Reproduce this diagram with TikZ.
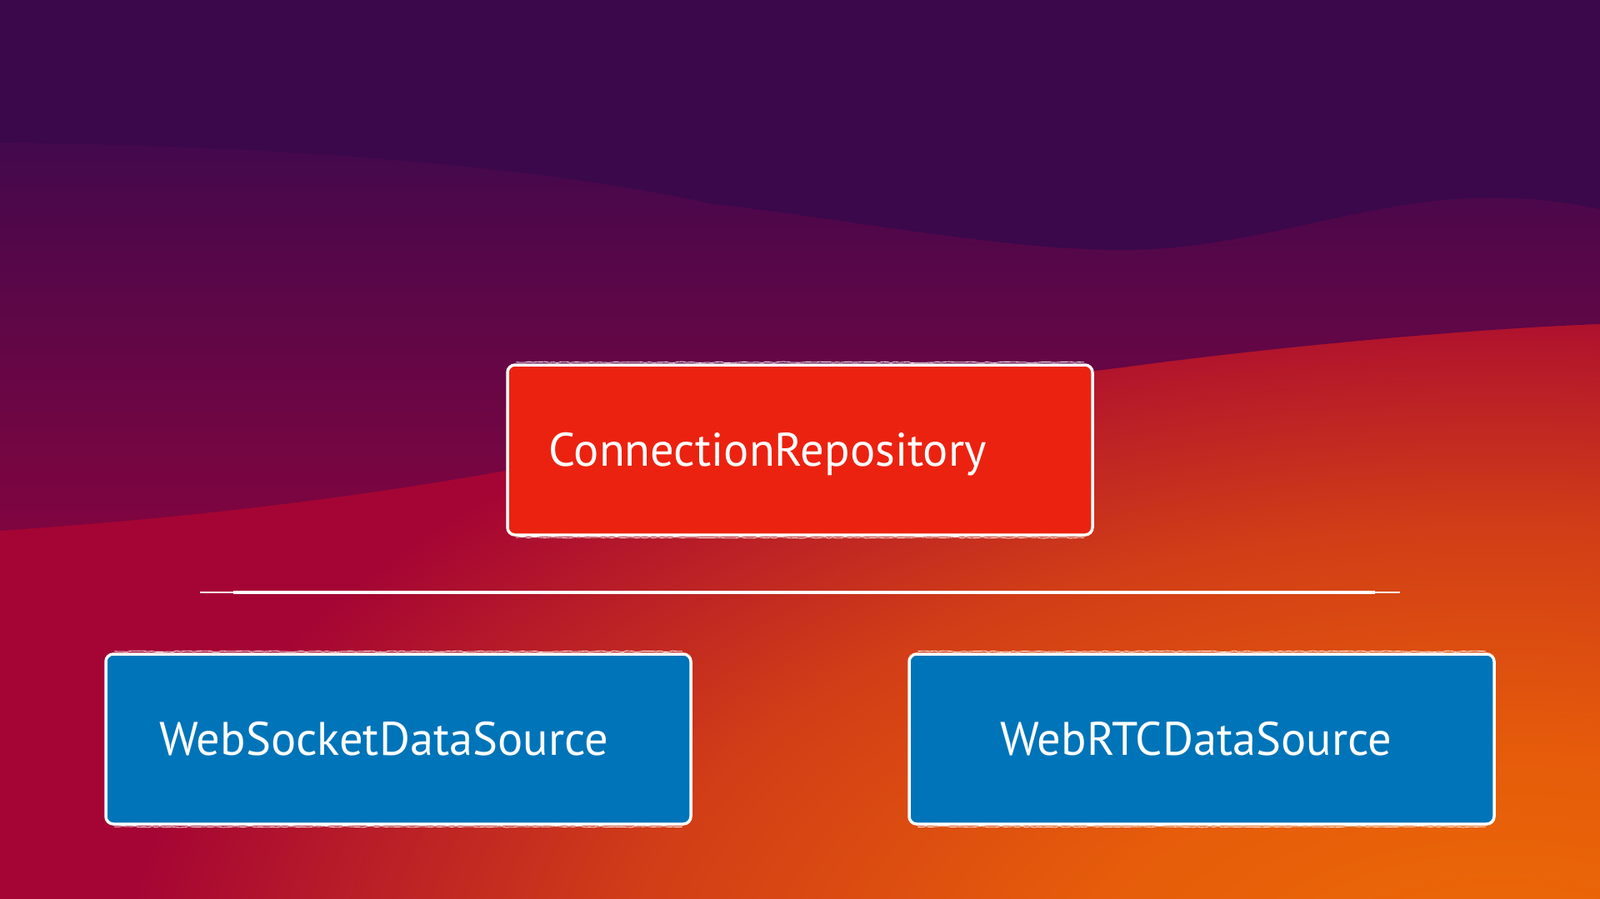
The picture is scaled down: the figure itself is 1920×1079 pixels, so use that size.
\documentclass[tikz,border=0pt]{standalone}
\usepackage{fontspec}
\setmainfont{PT Sans}
\usetikzlibrary{calc,decorations.pathmorphing}
\definecolor{topPurple}{RGB}{58,8,75}
\definecolor{bandTop}{RGB}{66,8,77}
\definecolor{bandBot}{RGB}{128,5,64}
\definecolor{crimson}{RGB}{165,5,52}
\definecolor{redFill}{RGB}{236,34,16}
\definecolor{blueFill}{RGB}{0,116,184}
\pgfdeclareradialshading{glow}{\pgfpoint{0bp}{0bp}}{rgb(0bp)=(0.93,0.42,0.02); rgb(8bp)=(0.90,0.36,0.04); rgb(16bp)=(0.82,0.24,0.09); rgb(25bp)=(0.647,0.02,0.204); rgb(50bp)=(0.647,0.02,0.204)}
\tikzset{
  box/.style={draw=white, line width=3.5pt, rounded corners=9pt, minimum width=702pt, minimum height=204pt, inner sep=0pt},
  rough/.style={draw=white, line width=0.8pt, decorate, decoration={random steps, segment length=5pt, amplitude=0.7pt}},
  lbl/.style={text=white, font=\fontsize{56.5}{68}\selectfont, inner sep=0pt, anchor=base west}
}
\begin{document}
\begin{tikzpicture}[x=1pt,y=-1pt]
\useasboundingbox (0,0) rectangle (1920,1079);
\begin{scope}
\clip (0,0) rectangle (1920,1079);
% base
\fill[crimson] (0,0) rectangle (1920,1079);
% orange glow
\shade[shading=glow] (1800,1180) ellipse (1650 and 860);
% middle band
\shade[top color=bandTop, bottom color=bandBot]
  (0,160) -- (1920,160) -- (1920,389)
  .. controls (1750,395) and (1500,420) .. (1347,441)
  .. controls (1150,465) and (950,490) .. (857,514)
  .. controls (650,560) and (400,610) .. (0,637) -- cycle;
% top dark region
\fill[topPurple]
  (0,0) -- (1920,0) -- (1920,251)
  .. controls (1870,240) and (1800,232) .. (1714,242)
  .. controls (1600,255) and (1480,300) .. (1347,300)
  .. controls (1200,300) and (1000,260) .. (857,245)
  .. controls (650,200) and (350,175) .. (0,171) -- cycle;
\end{scope}
% boxes
\node[box, fill=redFill] (repo) at (960,540) {};
\node[box, fill=blueFill] (ws) at (478,887) {};
\node[box, fill=blueFill] (rtc) at (1442,887) {};
\foreach \n in {repo,ws,rtc}{
  \draw[rough] ([xshift=12pt,yshift=1.5pt]\n.north west) -- ([xshift=-12pt,yshift=1.5pt]\n.north east);
  \draw[rough] ([xshift=12pt,yshift=-1.5pt]\n.south west) -- ([xshift=-12pt,yshift=-1.5pt]\n.south east);
}
% labels
\node[lbl] (repoT) at ($(repo.west)+(51,19)$) {ConnectionRepository};
\node[lbl] (wsT) at ($(ws.west)+(66,19)$) {WebSocketDataSource};
\node[lbl] (rtcT) at ($(rtc.west)+(111,19)$) {WebRTCDataSource};
% separator
\coordinate (sepL) at (240,711);
\coordinate (sepR) at (1680,711);
\draw[white, line width=1.2pt] (sepL) -- (sepR);
\draw[white, line width=3.5pt] ($(sepL)+(40,0)$) -- ($(sepR)+(-30,0)$);
\end{tikzpicture}
\end{document}
